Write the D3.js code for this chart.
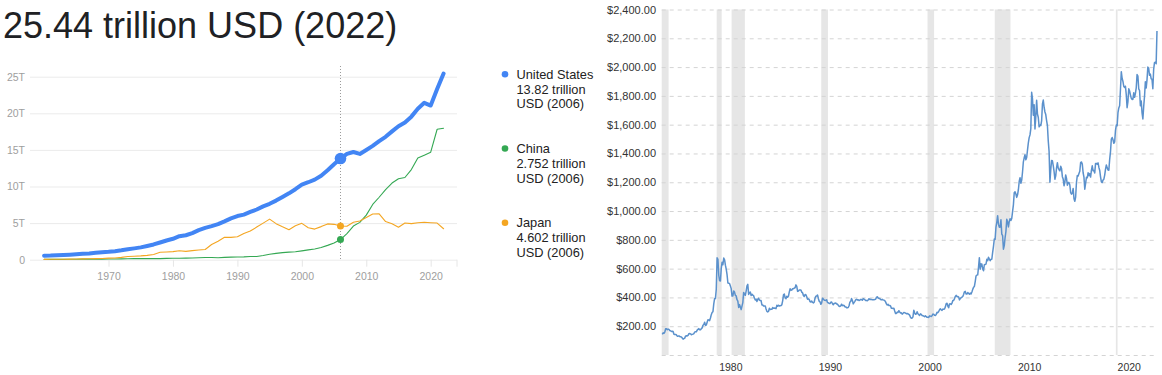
<!DOCTYPE html>
<html><head><meta charset="utf-8">
<script src="https://cdn.jsdelivr.net/npm/d3@7"></script>
<style>body{margin:0;background:#fff}svg{display:block}text{font-family:Arial,"Liberation Sans",sans-serif}</style>
</head><body><svg id="c" width="1162" height="375"></svg>
<script>
// ---------- Left chart data (GDP, trillion USD) ----------
const titleText = "25.44 trillion USD (2022)";
const gdpFirstYear = 1960;
const usGDP = [0.543,0.563,0.605,0.639,0.686,0.744,0.815,0.862,0.943,1.019,
  1.073,1.165,1.280,1.425,1.545,1.684,1.873,2.082,2.352,2.627,
  2.857,3.207,3.343,3.634,4.037,4.339,4.580,4.855,5.236,5.641,
  5.963,6.158,6.520,6.859,7.287,7.640,8.073,8.578,9.063,9.631,
  10.251,10.582,10.936,11.458,12.214,13.037,13.815,14.452,14.713,14.449,
  14.992,15.543,16.197,16.785,17.527,18.238,18.745,19.543,20.612,21.433,
  21.061,23.315,25.44];
const chinaGDP = [0.060,0.050,0.047,0.051,0.060,0.070,0.076,0.072,0.070,0.079,
  0.092,0.099,0.112,0.137,0.142,0.162,0.152,0.173,0.150,0.178,
  0.191,0.196,0.209,0.230,0.260,0.309,0.301,0.272,0.312,0.348,
  0.361,0.383,0.427,0.445,0.564,0.735,0.864,0.962,1.029,1.094,
  1.211,1.339,1.471,1.660,1.955,2.286,2.752,3.550,4.594,5.102,
  6.087,7.552,8.532,9.570,10.476,11.062,11.233,12.310,13.895,14.280,
  14.687,17.820,17.960];
const japanGDP = [0.044,0.054,0.061,0.070,0.082,0.091,0.106,0.124,0.147,0.172,
  0.213,0.240,0.318,0.433,0.480,0.521,0.586,0.721,1.014,1.055,
  1.105,1.218,1.135,1.244,1.319,1.399,2.079,2.533,3.072,3.055,
  3.133,3.584,3.909,4.455,4.999,5.546,4.923,4.492,4.098,4.636,
  4.968,4.374,4.182,4.520,4.893,4.832,4.602,4.579,5.106,5.289,
  5.759,6.233,6.272,5.212,4.897,4.445,5.004,4.930,5.041,5.118,
  5.055,5.006,4.232];
const gdpYTicks = [0,5,10,15,20,25];
const gdpYLabels = ["0","5T","10T","15T","20T","25T"];
const gdpXTicks = [1970,1980,1990,2000,2010,2020];
const hoverYear = 2006;
const legendNames = ["United States","China","Japan"];
const legendValues = ["13.82 trillion","2.752 trillion","4.602 trillion"];
const legendUnits = ["USD (2006)","USD (2006)","USD (2006)"];

// ---------- Right chart data (gold, USD per ounce, monthly from Jul 1974) ----------
const goldStartYear = 1974, goldStartMonth = 7;
const goldPrices = [
143,154,151,159,182,183,
176,180,178,170,167,164,165,163,144,142,143,139,
131,131,133,128,126,125,118,110,114,117,131,134,
132,136,148,149,147,141,143,145,149,159,162,161,
173,178,183,175,176,183,188,206,212,227,206,208,
227,245,242,239,257,280,295,301,355,392,392,456,
675,665,554,517,514,600,645,627,674,662,624,596,
558,500,499,496,480,461,409,410,444,437,414,410,
384,374,330,350,334,315,339,364,435,422,414,444,
481,491,420,432,438,413,422,416,412,394,382,388,
371,387,394,381,378,378,348,348,341,340,341,320,
303,299,304,325,316,317,317,330,324,326,325,322,
345,339,346,340,342,343,349,376,418,423,397,391,
408,401,409,438,460,450,451,461,460,465,467,487,
477,442,444,452,451,451,437,432,413,406,420,419,
404,388,390,385,371,368,375,365,362,367,394,409,
410,417,393,374,369,352,362,395,389,381,381,378,
384,364,363,358,357,367,368,356,349,358,360,361,
354,354,345,338,337,341,353,343,345,344,335,334,
329,329,330,342,367,372,392,379,355,364,373,383,
387,382,384,378,381,386,385,380,391,389,384,379,
379,377,382,391,385,387,386,383,383,383,386,387,
400,405,396,393,392,385,383,387,383,381,378,369,
355,347,352,344,344,341,324,324,323,325,306,289,
289,297,296,308,299,292,293,284,289,296,294,291,
287,288,286,282,277,262,256,257,265,311,293,283,
284,300,286,280,275,286,282,274,273,270,266,272,
266,262,263,261,272,270,268,273,284,283,276,275,
282,296,294,302,314,321,314,310,319,317,319,333,
357,359,340,328,355,356,351,360,379,379,390,407,
414,405,406,404,383,392,398,401,406,420,439,442,
424,423,434,429,422,430,424,438,456,470,476,510,
549,555,557,610,676,596,633,632,598,585,627,629,
631,665,655,679,667,655,665,665,713,754,806,803,
889,922,968,909,888,889,939,839,829,735,760,816,
858,943,924,890,928,946,934,949,996,1043,1127,1134,
1118,1095,1113,1148,1205,1232,1193,1215,1271,1342,1370,1391,
1356,1372,1424,1473,1510,1529,1572,1825,1780,1665,1739,1570,
1656,1770,1674,1650,1585,1596,1594,1626,1744,1771,1721,1688,
1670,1628,1593,1487,1414,1200,1285,1351,1349,1316,1275,1221,
1244,1300,1336,1299,1287,1279,1311,1296,1239,1222,1176,1200,
1251,1227,1179,1198,1199,1181,1128,1117,1125,1157,1086,1068,
1097,1200,1246,1243,1260,1276,1337,1341,1326,1266,1236,1152,
1192,1234,1231,1266,1246,1260,1236,1283,1314,1280,1282,1265,
1331,1331,1325,1335,1303,1282,1238,1202,1198,1215,1221,1250,
1291,1320,1300,1285,1284,1359,1413,1500,1511,1495,1471,1480,
1560,1597,1592,1683,1716,1732,1846,1968,1922,1900,1866,1858,
1867,1808,1718,1760,1850,1834,1807,1785,1775,1777,1821,1790,
1817,1856,1948,1937,1849,1837,1732,1765,1681,1640,1726,1798,
1898,1855,1913,2000,1992,1943,1951,1918,1916,1850,1985,2031,
2034,2023,2250];
const recessionStarts = [1973.83,1980.0,1981.5,1990.5,2001.17,2007.92,2020.08];
const recessionEnds   = [1975.17,1980.5,1982.83,1991.17,2001.83,2009.5,2020.25];
const goldYTicks = [0,200,400,600,800,1000,1200,1400,1600,1800,2000,2200,2400];
const goldXTicks = [1980,1990,2000,2010,2020];

// ---------- Drawing ----------
const svg = d3.select("#c");

// Title
svg.append("text").attr("x",3).attr("y",38).attr("font-size",36)
  .attr("fill","#202124").text(titleText);

// Left chart scales
const xG = d3.scaleLinear().domain([1960,2020]).range([44.1,430.7]);
const yG = d3.scaleLinear().domain([0,25]).range([259.7,76.7]);
const gL = 30, gR = 457;

const yAxisG = svg.append("g").attr("transform",`translate(${gL},0)`)
  .call(d3.axisLeft(yG).tickValues(gdpYTicks).tickSize(-(gR-gL)).tickPadding(5)
    .tickFormat((d,i)=>gdpYLabels[i]));
yAxisG.select(".domain").remove();
yAxisG.selectAll("line").attr("stroke","#ebebeb");
yAxisG.selectAll("text").attr("fill","#9e9e9e").attr("font-size",10.5)
  .attr("font-family","Arial, 'Liberation Sans', sans-serif");

const xAxisG = svg.append("g").attr("transform",`translate(0,${yG(0)})`)
  .call(d3.axisBottom(xG).tickValues(gdpXTicks).tickSize(7).tickPadding(6).tickFormat(d3.format("d")));
xAxisG.select(".domain").remove();
xAxisG.selectAll("line").attr("stroke","#e6e6e6");
xAxisG.selectAll("text").attr("fill","#9e9e9e").attr("font-size",10.5)
  .attr("font-family","Arial, 'Liberation Sans', sans-serif");
svg.append("line").attr("x1",gR).attr("x2",gR).attr("y1",yG(0)).attr("y2",yG(0)+7).attr("stroke","#e6e6e6");

// hover dotted line
svg.append("line").attr("x1",xG(hoverYear)).attr("x2",xG(hoverYear))
  .attr("y1",66).attr("y2",yG(0)).attr("stroke","#9a9a9a").attr("stroke-dasharray","1,2");

const gdpSeries = [
  {name:"China", vals:chinaGDP, color:"#34a853", w:1.1, r:3.5},
  {name:"Japan", vals:japanGDP, color:"#f4a622", w:1.1, r:3.5},
  {name:"United States", vals:usGDP, color:"#4285f4", w:4, r:5.8}
];
const lineG = d3.line().x((d,i)=>xG(gdpFirstYear+i)).y(d=>yG(d));
gdpSeries.forEach(s=>{
  svg.append("path").attr("d",lineG(s.vals)).attr("fill","none")
    .attr("stroke",s.color).attr("stroke-width",s.w).attr("stroke-linejoin","round").attr("stroke-linecap","round");
});
gdpSeries.forEach(s=>{
  const i = hoverYear-gdpFirstYear;
  svg.append("circle").attr("cx",xG(hoverYear)).attr("cy",yG(s.vals[i])).attr("r",s.r).attr("fill",s.color);
});

// Legend
const legendColors = ["#4285f4","#34a853","#f4a622"];
legendNames.forEach((n,k)=>{
  const top = 74.3 + k*74.2;
  svg.append("circle").attr("cx",505).attr("cy",top).attr("r",3.3).attr("fill",legendColors[k]);
  const t = svg.append("text").attr("x",516.5).attr("y",top+4.5).attr("font-size",12.8).attr("fill","#222");
  t.append("tspan").attr("x",516.5).text(n);
  t.append("tspan").attr("x",516.5).attr("dy",15).text(legendValues[k]);
  t.append("tspan").attr("x",516.5).attr("dy",14.5).text(legendUnits[k]);
});

// Right chart
const rL = 661.7, rR = 1157;
const xR = d3.scaleLinear().domain([1974.48, 2024.21]).range([rL, rR]);
const yR = d3.scaleLinear().domain([0,2400]).range([355,9.5]);

// recession bands
recessionStarts.forEach((s,i)=>{
  const a = Math.max(s, xR.domain()[0]), b = Math.min(recessionEnds[i], xR.domain()[1]);
  svg.append("rect").attr("x",xR(a)).attr("y",yR(2400)).attr("width",xR(b)-xR(a))
    .attr("height",yR(0)-yR(2400)).attr("fill","#e6e6e6");
});

const gyAxis = svg.append("g").attr("transform",`translate(${rL},0)`)
  .call(d3.axisLeft(yR).tickValues(goldYTicks).tickSize(-(rR-rL)).tickPadding(5.7)
    .tickFormat(d=> d===0 ? "" : "$"+d3.format(",.2f")(d)));
gyAxis.select(".domain").remove();
gyAxis.selectAll("line").attr("stroke","#d4d4d4").attr("stroke-dasharray","4,4");
gyAxis.selectAll("text").attr("fill","#333").attr("font-size",11)
  .attr("font-family","Arial, 'Liberation Sans', sans-serif");

goldXTicks.forEach(y=>{
  svg.append("text").attr("x",xR(y)+2.5).attr("y",370.5).attr("font-size",10.5)
    .attr("fill","#333").text(y);
});

const lineR = d3.line()
  .x((d,i)=>xR(goldStartYear + (goldStartMonth-1 + i + 0.5)/12))
  .y(d=>yR(d));
svg.append("path").attr("d",lineR(goldPrices)).attr("fill","none")
  .attr("stroke","#5b91cc").attr("stroke-width",1.5).attr("stroke-linejoin","round");
</script></body></html>
